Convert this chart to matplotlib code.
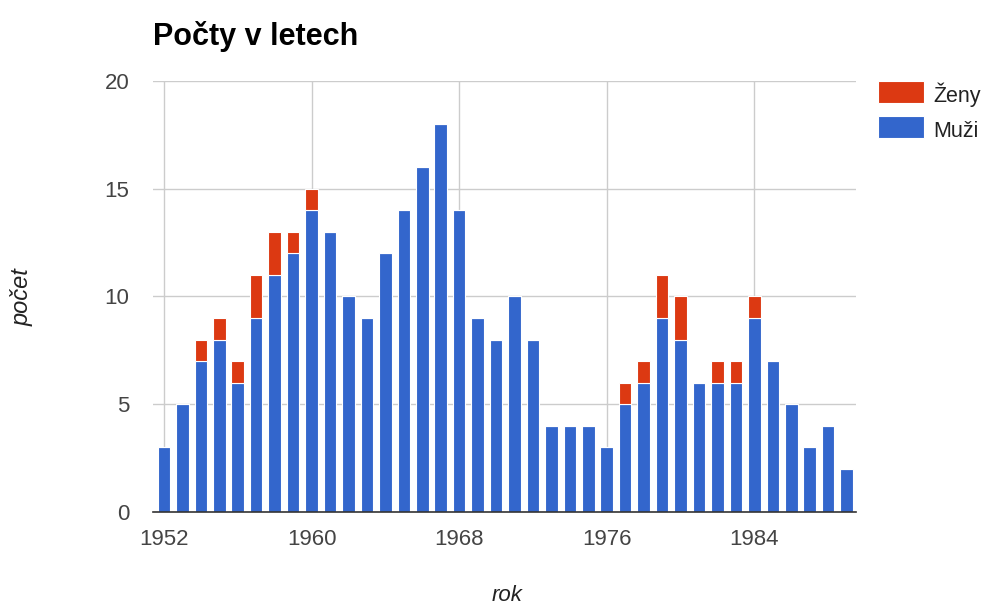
import numpy as np
import matplotlib
matplotlib.use('Agg')
from matplotlib import pyplot as plt
from matplotlib.patches import Rectangle

plt.rcParams['font.family'] = ['Liberation Sans', 'DejaVu Sans']

#------------------------------------------------------------
# data
years = np.arange(1952, 1990)
muzi = [3, 5, 7, 8, 6, 9, 11, 12, 14, 13,
        10, 9, 12, 14, 16, 18, 14, 9, 8, 10,
        8, 4, 4, 4, 3, 5, 6, 9, 8, 6,
        6, 6, 9, 7, 5, 3, 4, 2]
zeny = [0, 0, 1, 1, 1, 2, 2, 1, 1, 0,
        0, 0, 0, 0, 0, 0, 0, 0, 0, 0,
        0, 0, 0, 0, 0, 1, 1, 2, 2, 0,
        1, 1, 1, 0, 0, 0, 0, 0]
xticks = [1952, 1960, 1968, 1976, 1984]
yticks = [0, 5, 10, 15, 20]
series_names = ['Ženy', 'Muži']

blue = '#3366cc'
red = '#dc3912'
grey = '#444444'

W, H = 986, 608

#------------------------------------------------------------
fig = plt.figure(figsize=(W / 100, H / 100), dpi=100)
ax = fig.add_axes([0.155, 0.158, 0.713, 0.709])

ax.bar(years, muzi, width=0.68, color=blue, edgecolor='white', linewidth=0.8,
       zorder=3)
ax.bar(years, zeny, width=0.68, bottom=muzi, color=red, edgecolor='white',
       linewidth=0.8, zorder=3)

ax.set_xlim(1951.4, 1989.5)
ax.set_ylim(0, 20)
ax.set_xticks(xticks)
ax.set_yticks(yticks)
ax.tick_params(length=0, labelsize=16, colors=grey)
ax.tick_params(axis='x', pad=12)
ax.tick_params(axis='y', pad=17)
ax.grid(True, color='#cccccc', linewidth=1, zorder=0)

for side in ['top', 'right', 'left']:
    ax.spines[side].set_visible(False)
ax.spines['bottom'].set_color('#333333')
ax.spines['bottom'].set_linewidth(1.2)
ax.spines['bottom'].set_zorder(4)

# axis titles
fig.text(507 / W, 1 - 601 / H, 'rok', fontsize=16, style='italic',
         color='#222222', ha='center', va='baseline')
fig.text(22 / W, 1 - 297 / H, 'počet', fontsize=17, style='italic',
         color='#222222', ha='center', va='center', rotation=90)

fig.text(153 / W, 1 - 45 / H, 'Počty v letech', fontsize=22,
         fontweight='bold', ha='left', va='baseline')

# legend, drawn by hand to sit where the original does
for i, (name, col) in enumerate(zip(series_names, [red, blue])):
    top = 81 + 35 * i
    fig.patches.append(Rectangle((878 / W, 1 - (top + 22) / H), 46 / W,
                                 22 / H, transform=fig.transFigure,
                                 facecolor=col, edgecolor='white',
                                 linewidth=0.8))
    fig.text(933 / W, 1 - (top + 21) / H, name, fontsize=15.5,
             color='#222222', ha='left', va='baseline')

plt.savefig('out.png', dpi=100)
